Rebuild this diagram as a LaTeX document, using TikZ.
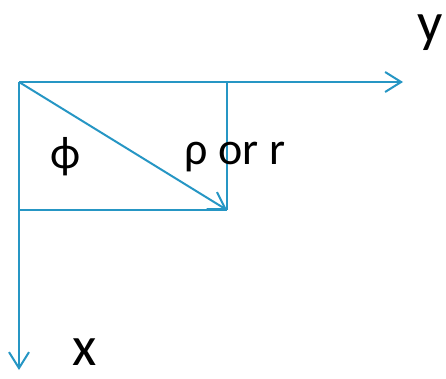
\documentclass[tikz,border=0pt]{standalone}
\usepackage{fontspec}
\setmainfont{Carlito}
\usetikzlibrary{arrows.meta}
\definecolor{axisblue}{RGB}{38,150,196}

\begin{document}
\begin{tikzpicture}[x=1pt,y=-1pt,
  axis/.style={draw=axisblue,line width=2pt},
  vec/.style={axis,-{Straight Barb[length=16pt,width=20pt,line width=2pt]}},
  big/.style={font=\fontsize{56}{60}\selectfont,inner sep=0pt},
  lbl/.style={font=\fontsize{46}{50}\selectfont,inner sep=0pt}]
  \useasboundingbox (0,0) rectangle (446,378);
  % corner points
  \coordinate (o) at (19,82);
  \coordinate (yend) at (403,82);
  \coordinate (xend) at (19,370);
  \coordinate (p) at (227,210);
  \coordinate (px) at (19,210);
  \coordinate (py) at (227,82);
  % axes
  \draw[vec] (o) -- (yend);
  \draw[vec] (o) -- (xend);
  % box and radius
  \draw[axis] (py) -- (p);
  \draw[axis] (px) -- (p);
  \draw[vec] (o) -- (p);
  % labels
  \node[big] (ylbl) at (430,33) {y};
  \node[big] (xlbl) at (85,352) {x};
  \node[lbl] (phi) at (66,157) {ϕ};
  \node[lbl] (rho) at (235,157) {ρ or r};
\end{tikzpicture}
\end{document}
